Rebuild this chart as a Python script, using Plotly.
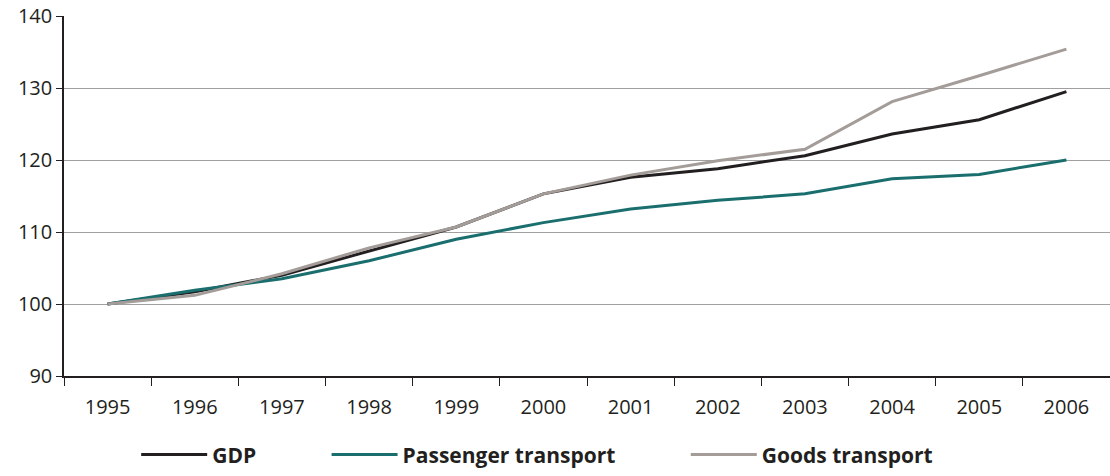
import plotly.graph_objects as go

years = ["1995", "1996", "1997", "1998", "1999", "2000", "2001", "2002", "2003", "2004", "2005", "2006"]
gdp = [100, 101.7, 104.0, 107.3, 110.7, 115.3, 117.6, 118.8, 120.6, 123.6, 125.6, 129.5]
passenger = [100, 101.9, 103.5, 106.0, 109.0, 111.3, 113.2, 114.4, 115.3, 117.4, 118.0, 120.0]
goods = [100, 101.2, 104.2, 107.8, 110.7, 115.3, 117.9, 119.9, 121.5, 128.1, 131.7, 135.4]

NB = "\u00a0"
ZW = "\u200b"
series = [
    ("GDP", gdp, "#231f20", 12),
    ("Passenger transport", passenger, "#1a6f6e", 12),
    ("Goods transport", goods, "#a39c98", 0),
]

fig = go.Figure()
for name, vals, color, pad in series:
    fig.add_trace(go.Scatter(x=years, y=vals, mode="lines", name=name + NB * pad + ZW,
                             line=dict(color=color, width=3)))

fig.update_layout(
    width=1110, height=476,
    margin=dict(l=64, r=0, t=16, b=100),
    paper_bgcolor="white", plot_bgcolor="white",
    font=dict(family="Open Sans", size=20, color="#231f20"),
    showlegend=True,
    legend=dict(orientation="h", x=0.069, xanchor="left", y=-0.276, yanchor="bottom",
                font=dict(family="Open Sans", size=21, color="#231f20", weight="bold"),
                itemwidth=66, traceorder="normal"),
)
fig.update_xaxes(type="category", range=[-0.5, 11.5], showgrid=False,
                 showline=True, linecolor="#231f20", linewidth=1.5,
                 ticks="outside", tickson="boundaries", ticklen=8, tickcolor="#231f20",
                 ticklabelstandoff=12,
                 tickfont=dict(size=20, color="#231f20"), fixedrange=True)
fig.update_yaxes(range=[90, 140], dtick=10, showgrid=True, gridcolor="#a0a0a0", gridwidth=1,
                 showline=True, linecolor="#231f20", linewidth=1.5,
                 ticks="outside", ticklen=6, tickcolor="#231f20",
                 tickfont=dict(size=20, color="#231f20"), zeroline=False)

fig.write_html("out.html")
